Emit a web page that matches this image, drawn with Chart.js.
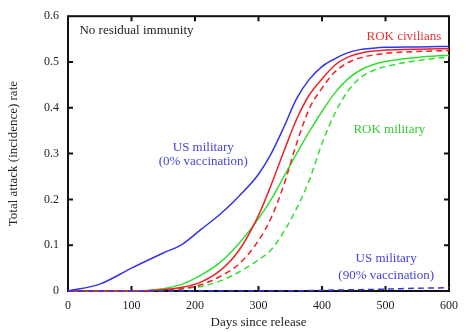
<!DOCTYPE html>
<html>
<head>
<meta charset="utf-8">
<script src="https://cdn.jsdelivr.net/npm/chart.js@4.4.1/dist/chart.umd.min.js"></script>
<style>
	html, body { margin: 0; padding: 0; background: #fff; }
	canvas { display: block; }
</style>
</head>
<body>
<canvas id="myChart" width="466" height="332"></canvas>
<script>
// days since release (shared by every curve)
const days = [0, 50, 100, 150, 180, 210, 240, 270, 300, 320, 340, 360, 380, 400, 420, 440, 460, 480, 500, 550, 600];

// total attack rate
const usMilitary0 = [0, 0.015, 0.05, 0.083, 0.102, 0.135, 0.168, 0.208, 0.255, 0.3, 0.358, 0.42, 0.462, 0.49, 0.507, 0.52, 0.527, 0.53, 0.532, 0.533, 0.534];
const usMilitary90 = [0, 0, 0, 0, 0, 0, 0, 0, 0, 0, 0, 0.0005, 0.001, 0.0015, 0.002, 0.0025, 0.003, 0.0035, 0.004, 0.006, 0.007];
const rokCivSolid = [0, 0, 0, 0.003, 0.008, 0.02, 0.045, 0.09, 0.165, 0.232, 0.305, 0.375, 0.428, 0.463, 0.493, 0.51, 0.519, 0.524, 0.526, 0.528, 0.529];
const rokCivDashed = [0, 0, 0, 0.002, 0.005, 0.014, 0.032, 0.06, 0.11, 0.16, 0.232, 0.322, 0.398, 0.443, 0.478, 0.498, 0.509, 0.515, 0.519, 0.523, 0.525];
const rokMilSolid = [0, 0, 0, 0.005, 0.015, 0.035, 0.063, 0.105, 0.158, 0.2, 0.25, 0.3, 0.348, 0.392, 0.432, 0.462, 0.482, 0.494, 0.501, 0.51, 0.515];
const rokMilDashed = [0, 0, 0, 0.002, 0.005, 0.01, 0.022, 0.042, 0.068, 0.09, 0.13, 0.18, 0.242, 0.322, 0.387, 0.435, 0.465, 0.481, 0.49, 0.503, 0.511];

const xTicks = [0, 100, 200, 300, 400, 500, 600];
const yTicks = [0, 0.1, 0.2, 0.3, 0.4, 0.5, 0.6];

// text placed in data space: [text, day, rate, colour, align]
const notes = [
	["No residual immunity", 18, 0.568, "#222", "left"],
	["ROK civilians", 529, 0.555, "#ee3333", "center"],
	["US military", 213, 0.314, "#4444dd", "center"],
	["(0% vaccination)", 213, 0.282, "#4444dd", "center"],
	["ROK military", 506, 0.353, "#33cc33", "center"],
	["US military", 501, 0.071, "#4444dd", "center"],
	["(90% vaccination)", 501, 0.033, "#4444dd", "center"],
];

const FONT = "'Liberation Serif', 'Times New Roman', serif";
const BLUE = "#3333ee";
const RED = "#ee2222";
const GREEN = "#33dd33";

const pts = (vals) => days.map((d, i) => ({ x: d, y: vals[i] }));

const line = (vals, color, dashed) => ({
	data: pts(vals),
	borderColor: color,
	borderWidth: 1.5,
	borderDash: dashed ? [6, 4] : [],
	pointRadius: 0,
	cubicInterpolationMode: "monotone",
	fill: false,
	clip: 4,
});

// frame + inward ticks on all four sides
const frame = {
	id: "frame",
	beforeDatasetsDraw(chart) {
		const { ctx, chartArea: a, scales: { x, y } } = chart;
		ctx.save();
		ctx.strokeStyle = "#111";
		ctx.lineWidth = 2;
		ctx.strokeRect(a.left, a.top, a.right - a.left, a.bottom - a.top);
		ctx.beginPath();
		xTicks.slice(1, -1).forEach((t) => {
			const px = x.getPixelForValue(t);
			ctx.moveTo(px, a.bottom);
			ctx.lineTo(px, a.bottom - 5);
			ctx.moveTo(px, a.top);
			ctx.lineTo(px, a.top + 5);
		});
		yTicks.slice(1, -1).forEach((t) => {
			const py = y.getPixelForValue(t);
			ctx.moveTo(a.left, py);
			ctx.lineTo(a.left + 5, py);
			ctx.moveTo(a.right, py);
			ctx.lineTo(a.right - 5, py);
		});
		ctx.stroke();
		ctx.restore();
	},
	afterDatasetsDraw(chart) {
		const { ctx, scales: { x, y } } = chart;
		ctx.save();
		ctx.font = "13px " + FONT;
		ctx.textBaseline = "middle";
		notes.forEach(([txt, d, v, c, al]) => {
			ctx.fillStyle = c;
			ctx.textAlign = al;
			ctx.fillText(txt, x.getPixelForValue(d), y.getPixelForValue(v));
		});
		ctx.restore();
	},
};

const ctx = document.getElementById("myChart");
// eslint-disable-next-line no-unused-vars
const myChart = new Chart(ctx, {
	type: "line",
	data: {
		datasets: [
			line(usMilitary90, BLUE, true),
			line(usMilitary0, BLUE, false),
			line(rokCivSolid, RED, false),
			line(rokCivDashed, RED, true),
			line(rokMilSolid, GREEN, false),
			line(rokMilDashed, GREEN, true),
		],
	},
	options: {
		responsive: false,
		animation: false,
		layout: { padding: { top: 12, right: 10, left: 0, bottom: 0 } },
		plugins: {
			legend: { display: false },
			tooltip: { enabled: false },
		},
		scales: {
			x: {
				type: "linear",
				min: 0,
				max: 600,
				afterBuildTicks: (s) => { s.ticks = xTicks.map((v) => ({ value: v })); },
				afterFit: (s) => { s.height = 41; },
				grid: { display: false, drawTicks: false },
				border: { display: false },
				ticks: { padding: 8, color: "#222", font: { family: FONT, size: 12 }, maxRotation: 0 },
				title: {
					display: true,
					text: "Days since release",
					color: "#222",
					font: { family: FONT, size: 13 },
					padding: { top: 0, bottom: 2 },
				},
			},
			y: {
				min: 0,
				max: 0.6,
				afterBuildTicks: (s) => { s.ticks = yTicks.map((v) => ({ value: v })); },
				afterFit: (s) => { s.width = 68; },
				grid: { display: false, drawTicks: false },
				border: { display: false },
				ticks: { padding: 9, color: "#222", font: { family: FONT, size: 12 } },
				title: {
					display: true,
					text: "Total attack (incidence) rate",
					color: "#222",
					font: { family: FONT, size: 13 },
					padding: { top: 6, bottom: 0 },
				},
			},
		},
	},
	plugins: [frame],
});
</script>
</body>
</html>
